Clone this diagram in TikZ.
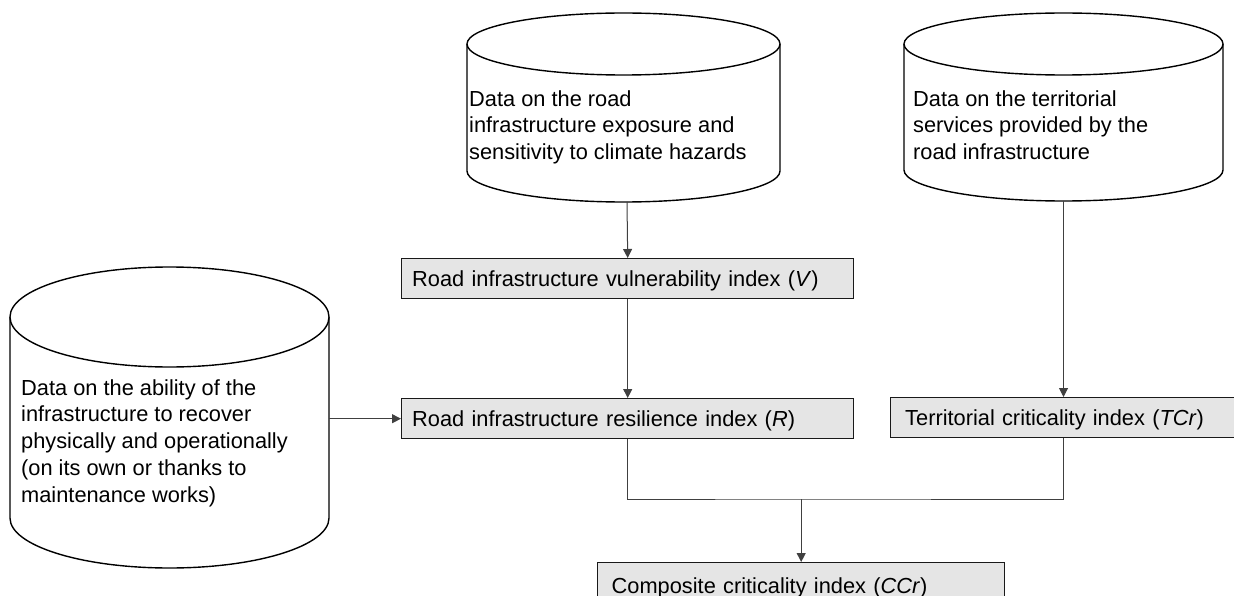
\documentclass[tikz,border=0pt]{standalone}
\usepackage{fontspec}
\setmainfont{Liberation Sans}
\usetikzlibrary{arrows.meta}
\newcommand\drawcyl[5]{% L, R, yT, yB, ry
  \draw[cylline] (#1,-#3) -- (#1,-#4)
    arc[start angle=180,end angle=360,x radius={(#2-#1)/2},y radius=#5]
    -- (#2,-#3)
    arc[start angle=0,end angle=180,x radius={(#2-#1)/2},y radius=#5] -- cycle;
  \draw[cylline] (#1,-#3) arc[start angle=180,end angle=360,x radius={(#2-#1)/2},y radius=#5];}
\begin{document}
\begin{tikzpicture}[x=1pt,y=1pt,
  txt/.style={font=\fontsize{21.8pt}{26.7pt}\selectfont, text=black},
  cylline/.style={draw=black, line width=1.4pt, fill=white},
  cyltext/.style={txt, anchor=north west, inner sep=0pt, align=left},
  idxbox/.style={txt, draw=black!90, line width=1.4pt, fill=black!10, anchor=north west,
    minimum height=40pt, text height=15.6pt, text depth=0pt, inner ysep=0pt, align=left},
  conn/.style={draw=black!75, line width=1pt},
  arr/.style={conn, -{Triangle[length=9pt,width=9pt]}}]
\fill[white] (0,0) rectangle (1234,-596);
\useasboundingbox (0,0) rectangle (1234,-596);

% cylinders
\drawcyl{467}{780}{44}{171}{31}
\drawcyl{904}{1223}{44}{170}{31}
\drawcyl{10}{329}{317}{518}{50}
\coordinate (c1b) at (627,-202);
\coordinate (c2b) at (1063.5,-201);
\coordinate (c3r) at (329,-318);

\node[cyltext] (t1) at (469,-89) {\rule{0pt}{17pt}Data on the road\\infrastructure exposure and\\sensitivity to climate hazards};
\node[cyltext] (t2) at (913,-89) {\rule{0pt}{17pt}Data on the territorial\\services provided by the\\road infrastructure};
\node[cyltext] (t3) at (21,-378) {\rule{0pt}{17pt}Data on the ability of the\\infrastructure to recover\\physically and operationally\\(on its own or thanks to\\maintenance works)};

% index boxes
\node[idxbox, inner xsep=10.5pt, text width=431pt] (V) at (401,-258) {Road infrastructure vulnerability index (\textit{V})};
\node[idxbox, inner xsep=10.5pt, text width=431pt] (R) at (401,-398) {Road infrastructure resilience index (\textit{R})};
\node[idxbox, inner xsep=14.5pt, text width=321pt] (TCr) at (890,-397) {Territorial criticality index (\textit{TCr})};
\node[idxbox, inner xsep=14pt, text width=379pt, minimum height=46pt] (CCr) at (597,-562) {Composite criticality index (\textit{CCr})};

% connectors
\draw[arr] (c1b) -- (V.north);
\draw[arr] (V.south) -- (R.north);
\draw[arr] (c3r |- R.west) -- (R.west);
\draw[arr] (c2b) -- (c2b |- TCr.north);
\coordinate (jn) at (CCr.north |- 0,-499);
\draw[conn] (R.south) |- (jn) -| (c2b |- TCr.south);
\draw[arr] (jn) -- (CCr.north);
\end{tikzpicture}
\end{document}
